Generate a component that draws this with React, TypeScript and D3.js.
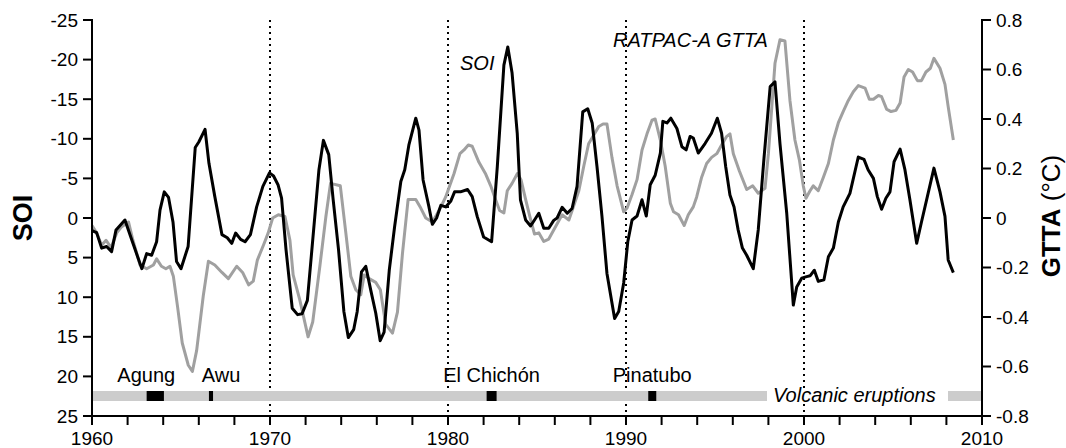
import React from 'react';
import * as d3 from 'd3';

// SOI (left axis, inverted) — [year, value]
const soi: [number, number][] = [
  [1960.0, 1.6], [1960.26, 1.85], [1960.54, 3.8], [1960.82, 3.6], [1961.1, 4.25], [1961.35, 1.5],
  [1961.85, 0.25], [1962.3, 3.2], [1962.8, 6.4], [1963.07, 4.5], [1963.35, 4.7], [1963.63, 3.0],
  [1963.82, -1.0], [1964.06, -3.3], [1964.3, -2.6], [1964.55, 0.5], [1964.75, 5.5], [1965.0, 6.4],
  [1965.4, 3.6], [1965.8, -8.9], [1966.0, -9.6], [1966.35, -11.2], [1966.57, -6.9], [1966.9, -2.7],
  [1967.3, 2.1], [1967.6, 2.5], [1967.85, 3.2], [1968.07, 1.9], [1968.35, 2.7], [1968.6, 3.0],
  [1968.9, 2.1], [1969.25, -1.4], [1969.6, -4.0], [1969.97, -5.7], [1970.2, -5.3], [1970.45, -4.2],
  [1970.65, -2.5], [1970.9, 4.0], [1971.25, 11.4], [1971.55, 12.2], [1971.8, 12.1], [1972.1, 10.4],
  [1972.4, 2.8], [1972.75, -6.1], [1973.0, -9.8], [1973.3, -8.0], [1973.55, -2.3], [1973.85, 4.0],
  [1974.15, 11.8], [1974.4, 15.1], [1974.7, 14.1], [1974.9, 11.8], [1975.14, 6.8], [1975.38, 6.1],
  [1975.66, 9.1], [1975.94, 12.0], [1976.19, 15.5], [1976.41, 14.4], [1976.7, 6.6], [1977.0, 1.1],
  [1977.35, -4.6], [1977.57, -6.1], [1977.8, -9.2], [1978.19, -12.6], [1978.37, -11.1], [1978.6, -4.8],
  [1978.93, -1.4], [1979.12, 0.8], [1979.36, 0.0], [1979.6, -1.6], [1979.87, -1.4], [1980.15, -2.1],
  [1980.37, -3.3], [1980.7, -3.3], [1981.1, -3.6], [1981.36, -2.7], [1981.64, -0.2], [1982.0, 2.4],
  [1982.45, 3.0], [1982.77, -6.5], [1983.14, -19.3], [1983.36, -21.6], [1983.6, -18.3], [1983.89, -10.7],
  [1984.07, -2.3], [1984.36, 0.25], [1984.64, 1.0], [1984.86, 0.25], [1985.1, -0.6], [1985.38, 1.3],
  [1985.66, 1.3], [1985.94, 0.3], [1986.13, 0.0], [1986.41, -1.35], [1986.7, -0.6], [1986.97, -1.2],
  [1987.25, -4.0], [1987.57, -13.4], [1987.85, -13.8], [1988.1, -12.0], [1988.37, -6.5], [1988.65, -0.2],
  [1988.93, 7.0], [1989.36, 12.7], [1989.59, 11.8], [1989.87, 8.2], [1990.1, 3.0], [1990.34, 0.25],
  [1990.62, -0.25], [1990.9, -2.3], [1991.14, -0.25], [1991.36, -4.2], [1991.64, -5.4], [1991.93, -8.2],
  [1992.07, -12.2], [1992.3, -12.0], [1992.52, -12.6], [1992.86, -11.3], [1993.14, -9.0], [1993.38, -8.6],
  [1993.6, -10.3], [1993.78, -10.1], [1994.06, -8.2], [1994.44, -9.4], [1994.8, -10.7], [1995.13, -12.6],
  [1995.37, -10.7], [1995.6, -6.5], [1995.84, -2.9], [1996.07, -1.4], [1996.3, 1.5], [1996.54, 3.8],
  [1996.78, 4.7], [1997.15, 6.4], [1997.43, 1.5], [1997.75, -7.5], [1998.1, -16.6], [1998.37, -17.2],
  [1998.65, -9.4], [1999.03, -0.6], [1999.4, 11.0], [1999.59, 8.7], [1999.87, 7.6], [2000.15, 7.4],
  [2000.34, 7.3], [2000.58, 6.6], [2000.8, 8.0], [2001.12, 7.8], [2001.37, 4.9], [2001.65, 3.8],
  [2001.93, 0.5], [2002.2, -1.4], [2002.58, -3.1], [2003.05, -7.7], [2003.37, -7.4], [2003.6, -6.1],
  [2003.9, -5.0], [2004.12, -2.7], [2004.36, -1.1], [2004.6, -2.5], [2004.83, -3.3], [2005.06, -7.1],
  [2005.4, -8.7], [2005.67, -6.1], [2005.95, -2.3], [2006.33, 3.2], [2006.6, 0.5], [2006.93, -2.7],
  [2007.3, -6.3], [2007.64, -3.3], [2007.92, -0.2], [2008.1, 5.3], [2008.39, 6.9],
];

// RATPAC-A GTTA (right axis, °C) — [year, value]
const gtta: [number, number][] = [
  [1960.0, -0.03], [1960.26, -0.06], [1960.54, -0.11], [1960.79, -0.09], [1961.07, -0.12], [1961.39, -0.06],
  [1961.67, -0.035], [1962.05, -0.016], [1962.3, -0.09], [1962.7, -0.19], [1963.07, -0.205], [1963.45, -0.19],
  [1963.63, -0.165], [1963.9, -0.195], [1964.15, -0.205], [1964.38, -0.195], [1964.57, -0.235], [1964.81, -0.36],
  [1965.07, -0.505], [1965.41, -0.595], [1965.64, -0.62], [1965.88, -0.535], [1966.25, -0.315], [1966.54, -0.175],
  [1966.9, -0.19], [1967.3, -0.22], [1967.66, -0.245], [1968.13, -0.195], [1968.46, -0.22], [1968.8, -0.27],
  [1969.06, -0.255], [1969.29, -0.17], [1969.63, -0.11], [1969.9, -0.06], [1970.15, 0.0], [1970.47, 0.013],
  [1970.84, 0.006], [1971.12, -0.09], [1971.3, -0.23], [1971.67, -0.33], [1972.14, -0.48], [1972.4, -0.42],
  [1972.8, -0.195], [1973.14, 0.006], [1973.4, 0.14], [1973.95, 0.13], [1974.26, -0.06], [1974.54, -0.235],
  [1974.82, -0.29], [1975.1, -0.31], [1975.29, -0.23], [1975.57, -0.245], [1975.94, -0.26], [1976.2, -0.29],
  [1976.5, -0.43], [1976.88, -0.465], [1977.16, -0.38], [1977.44, -0.145], [1977.76, 0.075], [1978.19, 0.075],
  [1978.47, 0.04], [1978.75, 0.0], [1979.12, -0.016], [1979.36, 0.013], [1979.6, 0.045], [1979.87, 0.085],
  [1980.34, 0.18], [1980.67, 0.26], [1980.9, 0.275], [1981.14, 0.295], [1981.36, 0.29], [1981.74, 0.225],
  [1982.1, 0.18], [1982.4, 0.13], [1982.67, 0.075], [1982.9, 0.03], [1983.14, 0.02], [1983.33, 0.11],
  [1983.6, 0.14], [1983.9, 0.18], [1984.1, 0.155], [1984.36, 0.075], [1984.6, 0.006], [1984.86, -0.065],
  [1985.1, -0.06], [1985.38, -0.095], [1985.66, -0.085], [1986.04, -0.035], [1986.41, 0.013], [1986.79, -0.008],
  [1987.07, 0.05], [1987.35, 0.11], [1987.63, 0.21], [1987.9, 0.3], [1988.19, 0.335], [1988.47, 0.37],
  [1988.71, 0.38], [1988.93, 0.38], [1989.21, 0.245], [1989.5, 0.13], [1989.87, 0.025], [1990.06, 0.04],
  [1990.34, 0.095], [1990.62, 0.155], [1990.9, 0.275], [1991.18, 0.34], [1991.46, 0.395], [1991.64, 0.4],
  [1991.93, 0.315], [1992.2, 0.21], [1992.49, 0.06], [1992.67, 0.025], [1992.95, 0.013], [1993.27, -0.03],
  [1993.5, 0.013], [1993.78, 0.045], [1993.97, 0.085], [1994.25, 0.165], [1994.53, 0.22], [1994.81, 0.245],
  [1995.1, 0.26], [1995.37, 0.295], [1995.66, 0.33], [1995.84, 0.34], [1996.03, 0.26], [1996.37, 0.19],
  [1996.78, 0.115], [1997.12, 0.13], [1997.43, 0.1], [1997.81, 0.12], [1998.0, 0.26], [1998.37, 0.625],
  [1998.65, 0.72], [1998.93, 0.715], [1999.21, 0.475], [1999.49, 0.315], [1999.74, 0.235], [1999.96, 0.13],
  [2000.11, 0.08], [2000.34, 0.11], [2000.52, 0.13], [2000.8, 0.11], [2001.09, 0.165], [2001.37, 0.22],
  [2001.65, 0.315], [2001.93, 0.385], [2002.2, 0.43], [2002.49, 0.475], [2002.77, 0.51], [2003.05, 0.535],
  [2003.43, 0.525], [2003.67, 0.48], [2003.9, 0.48], [2004.18, 0.495], [2004.36, 0.49], [2004.64, 0.44],
  [2004.89, 0.43], [2005.17, 0.435], [2005.4, 0.465], [2005.62, 0.57], [2005.86, 0.6], [2006.1, 0.59],
  [2006.37, 0.555], [2006.6, 0.555], [2006.85, 0.59], [2007.1, 0.605], [2007.3, 0.645], [2007.64, 0.605],
  [2007.92, 0.54], [2008.1, 0.45], [2008.39, 0.315],
];

// volcanic eruptions: name, start, end (years)
const eruptionNames = ['Agung', 'Awu', 'El Chichón', 'Pinatubo'];
const eruptionStart = [1963.07, 1966.57, 1982.17, 1991.25];
const eruptionEnd = [1964.04, 1966.8, 1982.73, 1991.7];

const soiTicks = [-25, -20, -15, -10, -5, 0, 5, 10, 15, 20, 25];
const gttaTicks = [0.8, 0.6, 0.4, 0.2, 0, -0.2, -0.4, -0.6, -0.8];
const yearLabels = [1960, 1970, 1980, 1990, 2000, 2010];
const dividerYears = [1970, 1980, 1990, 2000];

const W = 1066;
const H = 448;
const FONT = 'Liberation Sans, Arial, Helvetica, sans-serif';

export default function App() {
  const x = d3.scaleLinear().domain([1960, 2010]).range([92, 982]);
  const ySoi = d3.scaleLinear().domain([-25, 25]).range([20, 416]);
  const yG = d3.scaleLinear().domain([0.8, -0.8]).range([20, 416]);

  const soiLine = d3.line<[number, number]>().x(d => x(d[0])).y(d => ySoi(d[1]));
  const gLine = d3.line<[number, number]>().x(d => x(d[0])).y(d => yG(d[1]));

  const minorYears = d3.range(1960, 2011, 2);
  const fmtG = (v: number) => (Math.abs(v) < 1e-9 ? '0' : v.toFixed(1));
  const bandY = 391;
  const bandH = 10;
  const labelDx = [-9, 10, 0, 0];

  return (
    <svg width={W} height={H} style={{ position: 'absolute', left: 0, top: 0, display: 'block' }}
      fontFamily={FONT}>
      <rect width={W} height={H} fill="#fff" />

      {/* decade dividers */}
      {dividerYears.map(yr => (
        <line key={yr} x1={x(yr)} x2={x(yr)} y1={20} y2={416} stroke="#000" strokeWidth={2}
          strokeDasharray="2 4" />
      ))}

      {/* volcanic band */}
      <rect x={x(1960)} y={bandY} width={x(2010) - x(1960)} height={bandH} fill="#cccccc" />
      <rect x={767} y={bandY - 1} width={181} height={bandH + 2} fill="#fff" />
      {eruptionNames.map((n, i) => (
        <rect key={n} x={x(eruptionStart[i])} y={bandY} width={x(eruptionEnd[i]) - x(eruptionStart[i])}
          height={bandH} fill="#000" />
      ))}
      {eruptionNames.map((n, i) => (
        <text key={n} x={x((eruptionStart[i] + eruptionEnd[i]) / 2) + labelDx[i]} y={382}
          textAnchor="middle" fontSize={20}>{n}</text>
      ))}
      <text x={773} y={402} fontSize={20} fontStyle="italic">Volcanic eruptions</text>

      {/* series */}
      <path d={gLine(gtta) || ''} fill="none" stroke="#a0a0a0" strokeWidth={3} strokeLinejoin="round" />
      <path d={soiLine(soi) || ''} fill="none" stroke="#000" strokeWidth={3} strokeLinejoin="round" />

      <text x={460} y={70} fontSize={20} fontStyle="italic">SOI</text>
      <text x={613} y={47} fontSize={20} fontStyle="italic">RATPAC-A GTTA</text>

      {/* left axis */}
      <line x1={92} x2={92} y1={19} y2={417} stroke="#000" strokeWidth={2} />
      {soiTicks.map(t => (
        <g key={t}>
          <line x1={83} x2={92} y1={ySoi(t)} y2={ySoi(t)} stroke="#000" strokeWidth={2} />
          <text x={78} y={ySoi(t) + 6.5} textAnchor="end" fontSize={19}>{String(t)}</text>
        </g>
      ))}
      <text transform="translate(32,218) rotate(-90)" textAnchor="middle" fontSize={27}
        fontWeight="bold">SOI</text>

      {/* right axis */}
      <line x1={982} x2={982} y1={19} y2={417} stroke="#000" strokeWidth={2} />
      {gttaTicks.map(t => (
        <g key={t}>
          <line x1={982} x2={991} y1={yG(t)} y2={yG(t)} stroke="#000" strokeWidth={2} />
          <text x={996} y={yG(t) + 6.5} fontSize={19}>{fmtG(t)}</text>
        </g>
      ))}
      <text transform="translate(1060,216) rotate(-90)" textAnchor="middle" fontSize={26}>
        <tspan fontWeight="bold">GTTA</tspan><tspan> (°C)</tspan>
      </text>

      {/* bottom axis */}
      <line x1={91} x2={983} y1={416} y2={416} stroke="#000" strokeWidth={2} />
      {minorYears.map(yr => (
        <line key={yr} x1={x(yr)} x2={x(yr)} y1={416} y2={425} stroke="#000" strokeWidth={2} />
      ))}
      {yearLabels.map(yr => (
        <text key={yr} x={x(yr)} y={445} textAnchor="middle" fontSize={19}>{yr}</text>
      ))}
    </svg>
  );
}
